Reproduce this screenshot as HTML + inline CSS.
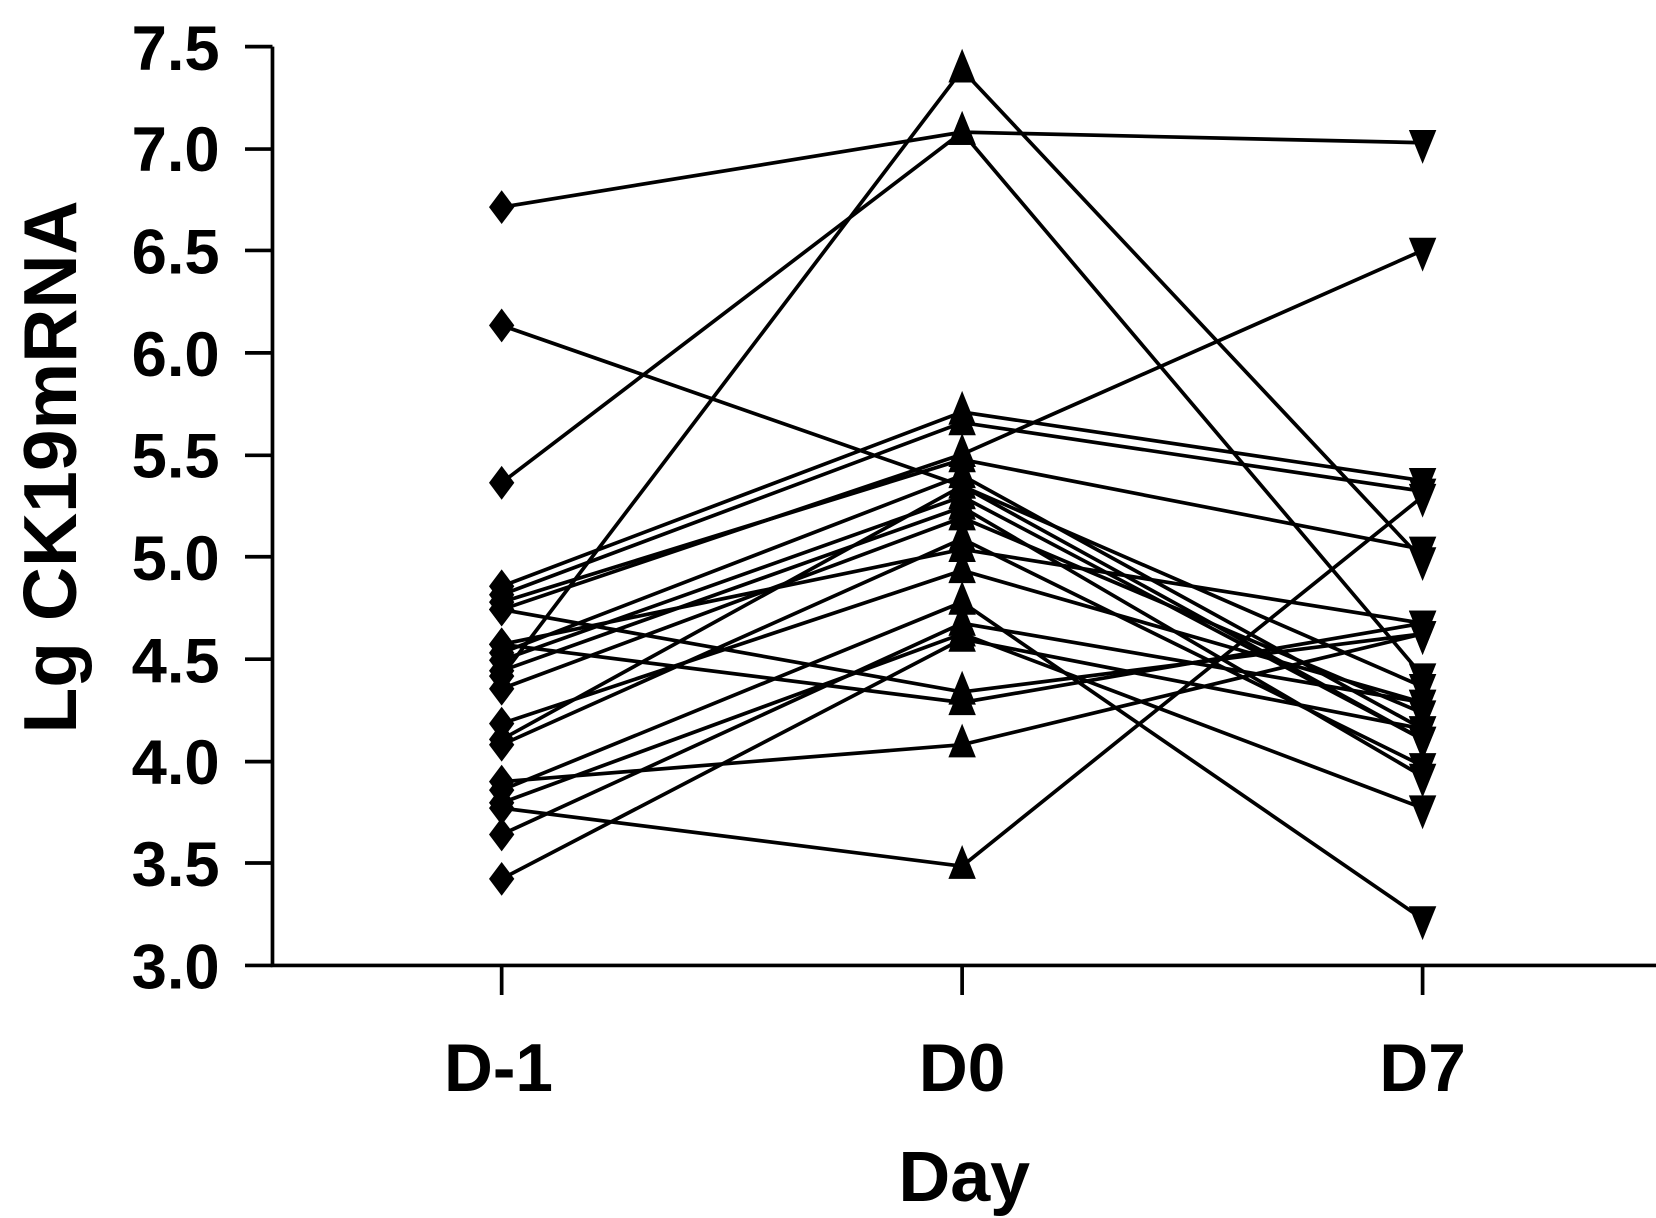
<!DOCTYPE html>
<html><head><style>html,body{margin:0;padding:0;background:#fff}svg{display:block}</style></head>
<body>
<svg width="1656" height="1218" viewBox="0 0 1568 1153" xmlns="http://www.w3.org/2000/svg">
<defs>
<path id="dm" d="M0,-16 L12,0 L0,16 L-12,0 Z"/>
<path id="tu" d="M0,-20 L13,12 L-13,12 Z"/>
<path id="td" d="M0,20 L13,-12 L-13,-12 Z"/>
</defs>
<g font-family="Liberation Sans, Arial, sans-serif" font-weight="bold" fill="#000">
<g font-size="60" text-anchor="end">
<text x="208" y="66">7.5</text>
<text x="208" y="162">7.0</text>
<text x="208" y="259">6.5</text>
<text x="208" y="356">6.0</text>
<text x="208" y="452">5.5</text>
<text x="208" y="549">5.0</text>
<text x="208" y="646">4.5</text>
<text x="208" y="742">4.0</text>
<text x="208" y="839">3.5</text>
<text x="208" y="936">3.0</text>
</g>
<text transform="translate(72,442) rotate(-90)" font-size="71" text-anchor="middle">Lg CK19mRNA</text>
<g font-size="64" text-anchor="middle">
<text x="472" y="1033">D-1</text>
<text x="911" y="1033">D0</text>
<text x="1347" y="1033">D7</text>
</g>
<text x="913" y="1137" font-size="68" text-anchor="middle">Day</text>
</g>
<g stroke="#000" stroke-width="3.5" fill="none">
<path d="M258,44 V914 H1568"/>
<path d="M232,44 H258 M232,141 H258 M232,237 H258 M232,334 H258 M232,431 H258 M232,527 H258 M232,624 H258 M232,721 H258 M232,817 H258 M232,914 H258"/>
<path d="M475,914 V942 M911,914 V942 M1347,914 V942"/>
</g>
<g id="lines" stroke="#000" stroke-width="3.5" fill="none"></g>
<g id="mk" fill="#000"></g>
<script>
var d=[[196,125,135],[308,460,650],[457,125,640],[640,66,530],[555,390,455],[563,400,465],[570,435,520],[577,430,237],[610,520,590],[618,450,690],[625,470,700],[635,480,735],[652,490,675],[685,540,665],[705,510,725],[740,705,600],[765,820,470],[748,570,870],[760,600,765],[790,590,665],[832,605,690],[577,655,600],[610,665,590],[700,460,700]];
var L=document.getElementById('lines'),M=document.getElementById('mk'),ns='http://www.w3.org/2000/svg';
d.forEach(function(r){var p=document.createElementNS(ns,'polyline');p.setAttribute('points','475,'+r[0]+' 911,'+r[1]+' 1347,'+r[2]);L.appendChild(p);
[['dm',475,r[0]],['tu',911,r[1]],['td',1347,r[2]]].forEach(function(m){var u=document.createElementNS(ns,'use');u.setAttribute('href','#'+m[0]);u.setAttribute('transform','translate('+m[1]+','+m[2]+')');M.appendChild(u);});});
</script>
</svg>
</body></html>
